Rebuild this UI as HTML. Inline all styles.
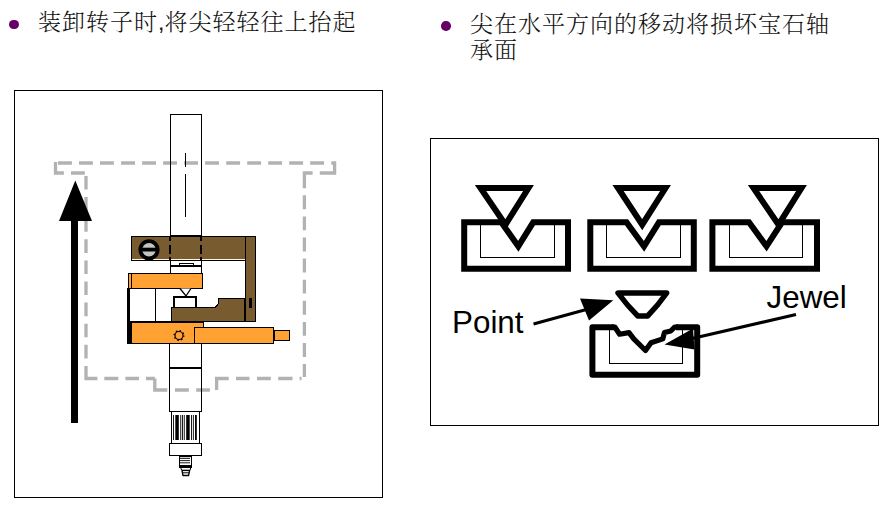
<!DOCTYPE html>
<html lang="zh-CN">
<head>
<meta charset="utf-8">
<title>装卸转子</title>
<style>
html,body{margin:0;padding:0;background:#fff;}
body{width:888px;height:509px;position:relative;overflow:hidden;font-family:"Liberation Sans","Noto Serif CJK SC",sans-serif;}
.t{position:absolute;margin:0;font-family:"Liberation Sans","Noto Serif CJK SC",serif;font-size:23px;letter-spacing:1px;line-height:26px;color:#111;white-space:nowrap;font-weight:300;}
.b{position:absolute;width:9.5px;height:9.5px;border-radius:50%;background:#660066;}
svg{position:absolute;left:0;top:0;}
.lab{font-family:"Liberation Sans",sans-serif;font-size:31.4px;fill:#000;}
</style>
</head>
<body>
<div class="b" style="left:9px;top:19.7px"></div>
<p class="t" style="left:38px;top:9px">装卸转子时<span style="letter-spacing:0">,</span>将尖轻轻往上抬起</p>
<div class="b" style="left:441.3px;top:21.2px"></div>
<p class="t" style="left:470px;top:11px">尖在水平方向的移动将损坏宝石轴<br>承面</p>

<svg width="888" height="509" viewBox="0 0 888 509">
<!-- frames -->
<g fill="none" stroke="#000" stroke-width="1" shape-rendering="crispEdges">
<rect x="14.5" y="90.5" width="368" height="407"/>
<rect x="430.5" y="138.5" width="448" height="287"/>
</g>

<!-- LEFT DIAGRAM -->
<!-- dashed outline -->
<path d="M58,163 H71.9 M79,163 H92.9 M100,163 H113.9 M121.1,163 H135 M142.1,163 H156 M163.1,163 H177 M184.1,163 H198 M205.1,163 H219 M226.2,163 H240.1 M247.2,163 H261.1 M268.2,163 H282.1 M289.2,163 H303.1 M310.2,163 H324.1 M331.3,163 H334.6 V173 H319.8 M312.6,173 H304.4 V188.3 M304.4,195.3 V209.2 M304.4,216.4 V230.3 M304.4,237.5 V251.4 M304.4,258.6 V272.5 M304.4,279.7 V293.6 M304.4,300.8 V314.7 M304.4,321.9 V335.8 M304.4,343 V356.9 M304.4,364.1 V377 M228.7,378.5 H216.6 V390 M236,378.5 H249.5 M257,378.5 H270.8 M278.2,378.5 H292.5 M299.6,378.5 H301.5 M154.8,378.5 V390 H167.3 M175,390 H188.8 M196.2,390 H209.9 M86,365.9 V378.5 H97.4 M104.3,378.5 H118.3 M125.4,378.5 H139 M146,378.5 H154.8 M86,176 V189.6 M86,197.1 V210.7 M86,218.2 V231.8 M86,239.3 V252.9 M86,260.4 V274 M86,281.5 V295.1 M86,302.6 V316.2 M86,323.7 V337.3 M86,344.8 V358.4 M71,173 H84.8 M63.9,173 H55.5 V162" fill="none" stroke="#b2b2b2" stroke-width="3.3"/>
<g shape-rendering="crispEdges">
<!-- shaft upper -->
<rect x="170.5" y="114.5" width="31" height="122" fill="none" stroke="#000"/>
<line x1="185.5" y1="153" x2="185.5" y2="167" stroke="#000"/>
<line x1="185.5" y1="174" x2="185.5" y2="217" stroke="#000"/>
<!-- lower shaft -->
<rect x="169.5" y="343.5" width="32" height="68" fill="none" stroke="#000"/>
<rect x="170" y="366.5" width="32" height="2" fill="#000"/>
<rect x="171.5" y="411.5" width="28" height="32" fill="#fff" stroke="#000"/>
<rect x="169.5" y="443.5" width="32" height="12" fill="#fff" stroke="#000"/>
<rect x="179.5" y="455.5" width="12" height="12" fill="#fff" stroke="#000"/>
<rect x="180" y="464.5" width="11" height="3" fill="#000"/>
</g>
<!-- knurl -->
<g fill="#000">
<rect x="173" y="415" width="0.9" height="25"/>
<rect x="175.3" y="415" width="3.5" height="25"/>
<rect x="180.3" y="415" width="0.9" height="25"/>
<rect x="182" y="415" width="0.9" height="25"/>
<rect x="183.8" y="415" width="0.9" height="25"/>
<rect x="186.2" y="415" width="3.5" height="25"/>
<rect x="191.1" y="415" width="0.9" height="25"/>
<rect x="192.9" y="415" width="0.9" height="25"/>
<rect x="195" y="415" width="1.8" height="25"/>
</g>
<g fill="none" stroke="#000" stroke-width="1">
<path d="M180,456.3 H191" stroke-width="1.6"/>
<path d="M180,458.4 H190 M180,460.6 H190 M180,462.8 H190" stroke-width="0.9"/>
<path d="M180.8,468 L181.8,470.5 H190 L190.6,468" fill="#fff"/>
<path d="M182,470.5 L183,475.5 H188.6 L189.6,470.5" fill="#fff" stroke-width="1.3"/>
<path d="M182,470.4 H189.8" stroke-width="1.4"/>
<path d="M182.6,472.8 H189"/>
</g>
<!-- arrow -->
<rect x="71" y="218" width="7" height="205" fill="#000" shape-rendering="crispEdges"/>
<polygon points="75.3,180.5 92,221 59,221" fill="#000"/>
<g shape-rendering="crispEdges">
<!-- brown top bar -->
<rect x="131.5" y="236.5" width="124" height="24" fill="#785b2f" stroke="#000"/>
<rect x="132" y="258.5" width="113" height="1.5" fill="#fff4e0"/>
<!-- right arm -->
<rect x="245.5" y="236.5" width="10" height="85" fill="#785b2f" stroke="#000"/>
<!-- dashed shaft in brown -->
<path d="M170,237 V240.5 M170,245 V254 M170,256.500 V260 M201,237 V240.500 M201,245 V254 M201,256.500 V260" stroke="#000" stroke-width="2" fill="none"/>
<line x1="170" y1="236" x2="202" y2="236" stroke="#000" stroke-width="2"/>
<!-- shaft between -->
<line x1="170.5" y1="260" x2="170.5" y2="274" stroke="#000"/>
<line x1="201.5" y1="260" x2="201.5" y2="274" stroke="#000"/>
<rect x="170" y="265" width="32" height="2" fill="#000"/>
<rect x="179.5" y="263.5" width="14" height="2" fill="#fff" stroke="#000"/>
<!-- orange top bar -->
<rect x="128.5" y="273.5" width="74" height="15" fill="#ffa233" stroke="#000"/>
<line x1="131.5" y1="274" x2="131.5" y2="288" stroke="#000"/>
<!-- white box and thick left -->
<rect x="127" y="288" width="3" height="56" fill="#000"/>
<rect x="129.5" y="288.5" width="26" height="33" fill="#fff" stroke="#000"/>
<!-- jewel box small -->
<rect x="173" y="296" width="24" height="12" fill="#000"/>
<rect x="175" y="298" width="20" height="9.5" fill="#fff"/>
<!-- brown lower -->
<path d="M171.5,307.5 H213 Q218.5,307.5 218.5,300 V298.5 H245.5 V321.5 H171.5 Z" fill="#785b2f" stroke="#000"/>
<rect x="244" y="298" width="2" height="24" fill="#000"/>
<rect x="249" y="298" width="3" height="10" fill="#000"/>
<!-- orange bottom -->
<rect x="130.5" y="322.5" width="73" height="21" fill="#ffa233" stroke="#000"/>
<rect x="194.5" y="327.5" width="79" height="16" fill="#ffa233" stroke="#000"/>
<rect x="274.5" y="330.5" width="15" height="10" fill="#ffa233" stroke="#000"/>
<rect x="130" y="321" width="74" height="2" fill="#000"/>
<rect x="127" y="322" width="5" height="22" fill="#000"/>
</g>
<!-- V tip -->
<path d="M180,288.500 L186,296 L191,288.500" fill="#fff" stroke="#000" stroke-width="1.300"/>
<!-- gear -->
<circle cx="179" cy="335.500" r="4" fill="none" stroke="#000" stroke-width="1.200"/>
<circle cx="179" cy="335.500" r="4.900" fill="none" stroke="#000" stroke-width="1.200" stroke-dasharray="1.500 2.350"/>
<!-- screw -->
<circle cx="149" cy="249.800" r="8.700" fill="#c4c4c4" stroke="#000" stroke-width="3.800"/>
<rect x="141" y="247.700" width="16" height="3.800" fill="#000"/>
<rect x="147.500" y="258" width="3" height="3" fill="#000"/>

<!-- RIGHT DIAGRAM -->
<g fill="none" stroke="#000" stroke-width="6" stroke-linejoin="miter">
<!-- jewel 1 -->
<path d="M464.200,222.300 H501.300 L518.300,246.300 L533.200,222.300 H568 V268.700 H464.200 Z"/>
<path d="M480.500,188 H528.500 L505.500,224.700 Z"/>
<!-- jewel 2 -->
<path d="M590.300,222.300 H626.500 L644,246.300 L659,222.300 H693.800 V268.700 H590.300 Z"/>
<path d="M618,188 H665.500 L642.200,224.700 Z"/>
<!-- jewel 3 -->
<path d="M712.400,222.300 H749 L766.500,246.300 L782,222.300 H817 V268.700 H712.400 Z"/>
<path d="M753.500,188 H801.500 L778.500,224.700 Z"/>
</g>
<g fill="none" stroke="#000" stroke-width="1" shape-rendering="crispEdges">
<path d="M480.500,225 V257.500 H554.500 V225"/>
<path d="M606.500,225 V257.500 H680.500 V225"/>
<path d="M729.500,225 V257.500 H802.500 V225"/>
<path d="M609.500,330 V363.500 H682.500 V330"/>
</g>
<!-- bottom jewel -->
<path d="M614,327.200 H592.400 V374.800 H697.200 V327.200 H676" fill="none" stroke="#000" stroke-width="6" stroke-linejoin="round"/>
<path d="M612,327.200 H615 L619.600,334.200 L629,332.600 L633.800,338.900 L645.500,350.500 L651,342.800 L662.800,338.900 L664.400,332.600 L670.700,331 L674.600,327.200 H678" fill="none" stroke="#000" stroke-width="5.200" stroke-linejoin="round"/>
<path d="M618,293 H666.7 Q658.1,305.3 647.6,316 H637.8 Q627,305.3 618,293 Z" fill="none" stroke="#000" stroke-width="5.4" stroke-linejoin="round"/>
<!-- arrows -->
<line x1="533.500" y1="324" x2="590" y2="308.500" stroke="#000" stroke-width="3"/>
<polygon points="613.300,300.300 580,298.500 589,320.500" fill="#000"/>
<line x1="796" y1="314.500" x2="690" y2="339" stroke="#000" stroke-width="3.200"/>
<polygon points="664.500,344.500 693,328.500 694.500,349.500" fill="#000"/>
<text class="lab" x="452" y="333">Point</text>
<text class="lab" x="766.500" y="307.500">Jewel</text>
</svg>
</body>
</html>
